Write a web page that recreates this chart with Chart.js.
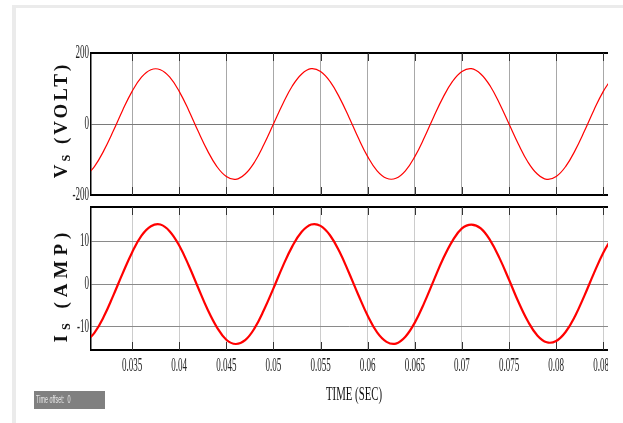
<!DOCTYPE html>
<html>
<head>
<meta charset="utf-8">
<script src="https://cdn.jsdelivr.net/npm/chart.js@4.4.1/dist/chart.umd.min.js"></script>
<style>
  body { margin:0; background:#fff; width:623px; height:423px; overflow:hidden; position:relative; font-family:'Liberation Serif', serif; }
  #frame { position:absolute; left:12px; top:5px; width:640px; height:440px; border-left:4px solid #ebebeb; border-top:3px solid #ebebeb; }
  canvas { position:absolute; left:0; }
  .ytitle { position:absolute; white-space:nowrap; font-weight:bold; font-size:19px; color:#111; transform:translate(-50%,-50%) rotate(-90deg); }
  .ytitle .sub { font-size:12px; position:relative; top:3px; }
  #xtitle { position:absolute; left:354px; top:394px; white-space:nowrap; font-size:18px; color:#111; transform:translate(-50%,-50%) scaleX(0.6); }
  #offset { position:absolute; left:34px; top:391px; width:71px; height:18px; background:#808080; }
  #offset span { position:absolute; left:2px; top:3px; white-space:nowrap; font-family:'Liberation Sans', sans-serif; font-size:10px; color:#e6e6e6; transform:scaleX(0.55); transform-origin:left center; }
</style>
</head>
<body>
<div id="frame"></div>
<canvas id="vsChart" width="608" height="170" style="top:40px"></canvas>
<canvas id="isChart" width="608" height="225" style="top:198px"></canvas>
<div class="ytitle" style="left:61px; top:120px; letter-spacing:3px;">V<span class="sub">S</span> (VOLT)</div>
<div class="ytitle" style="left:61px; top:285px; letter-spacing:5px;">I<span class="sub">S</span> (AMP)</div>
<div id="xtitle">TIME (SEC)</div>
<div id="offset"><span>Time offset:&nbsp; 0</span></div>
<script>
// data, every 1 ms
var time = [0.030, 0.031, 0.032, 0.033, 0.034, 0.035, 0.036, 0.037, 0.038, 0.039,
  0.040, 0.041, 0.042, 0.043, 0.044, 0.045, 0.046, 0.047, 0.048, 0.049,
  0.050, 0.051, 0.052, 0.053, 0.054, 0.055, 0.056, 0.057, 0.058, 0.059,
  0.060, 0.061, 0.062, 0.063, 0.064, 0.065, 0.066, 0.067, 0.068, 0.069,
  0.070, 0.071, 0.072, 0.073, 0.074, 0.075, 0.076, 0.077, 0.078, 0.079,
  0.080, 0.081, 0.082, 0.083, 0.084, 0.085, 0.086];
var vsVolt = [-148, -120, -75, -20, 39, 92, 132, 153, 153, 132,
  92, 39, -20, -75, -120, -148, -156, -141, -107, -57,
  0, 57, 107, 141, 156, 148, 120, 75, 20, -39,
  -92, -132, -153, -153, -132, -92, -39, 20, 75, 120,
  148, 156, 141, 107, 57, 0, -57, -107, -141, -156,
  -148, -120, -75, -20, 39, 92, 132];
var isAmp = [-13.6, -11.4, -7.6, -2.7, 2.5, 7.4, 11.3, 13.5, 13.9, 12.3,
  9.0, 4.4, -0.8, -5.9, -10.1, -13.0, -14.0, -13.1, -10.3, -6.0,
  -1.0, 4.2, 8.8, 12.2, 13.9, 13.6, 11.4, 7.6, 2.7, -2.5,
  -7.4, -11.3, -13.5, -13.9, -12.3, -9.0, -4.4, 0.8, 5.9, 10.1,
  13.0, 13.9, 13.0, 10.2, 6.0, 1.0, -4.2, -8.7, -12.0, -13.6,
  -13.3, -11.2, -7.5, -2.7, 2.5, 7.3, 11.1];

var xTicks = [0.035, 0.04, 0.045, 0.05, 0.055, 0.06, 0.065, 0.07, 0.075, 0.08, 0.085];
var xTickLabels = ['0.035', '0.04', '0.045', '0.05', '0.055', '0.06', '0.065', '0.07', '0.075', '0.08', '0.085'];
var vsTicks = [-200, 0, 200];
var isTicks = [-10, 0, 10];
var xMin = 0.03064, xMax = 0.0855;

// narrow serif labels, like the simulator's plot
function squashText(ctx, txt, x, y, align) {
  ctx.save();
  ctx.translate(x, y);
  ctx.scale(0.5, 1);
  ctx.textAlign = align;
  ctx.fillText(txt, 0, 0);
  ctx.restore();
}

var plotDecor = {
  id: 'plotDecor',
  beforeDatasetsDraw: function (chart) {
    // short dark tick marks inside the frame
    var ctx = chart.ctx, area = chart.chartArea, sx = chart.scales.x;
    ctx.save();
    ctx.strokeStyle = '#333';
    ctx.lineWidth = 1;
    sx.ticks.forEach(function (t) {
      var px = Math.round(sx.getPixelForValue(t.value)) + 0.5;
      ctx.beginPath();
      ctx.moveTo(px, area.top); ctx.lineTo(px, area.top + 8);
      ctx.moveTo(px, area.bottom); ctx.lineTo(px, area.bottom - 8);
      ctx.stroke();
    });
    ctx.restore();
  },
  afterDraw: function (chart, args, opts) {
    var ctx = chart.ctx, sy = chart.scales.y, sx = chart.scales.x;
    ctx.save();
    ctx.fillStyle = '#222';
    ctx.font = '18px "Liberation Serif"';
    ctx.textBaseline = 'middle';
    sy.ticks.forEach(function (t) {
      squashText(ctx, String(t.value), chart.chartArea.left - 2, sy.getPixelForValue(t.value), 'right');
    });
    if (opts.xLabels) {
      sx.ticks.forEach(function (t, i) {
        squashText(ctx, xTickLabels[i], sx.getPixelForValue(t.value), chart.chartArea.bottom + 16, 'center');
      });
    }
    ctx.restore();
  }
};

function makePanel(id, values, yMin, yMax, yTicks, lineW, padTop, xHeight, xLabels, xGridColor, yGridColor) {
  return new Chart(document.getElementById(id), {
    type: 'line',
    data: {
      datasets: [{
        data: time.map(function (t, i) { return { x: t, y: values[i] }; }),
        borderColor: '#ff0000',
        borderWidth: lineW,
        pointRadius: 0,
        tension: 0.4,
        fill: false
      }]
    },
    options: {
      responsive: false,
      animation: false,
      events: [],
      layout: { padding: { top: padTop, left: 0, right: 0, bottom: 0 } },
      plugins: { legend: { display: false }, tooltip: { enabled: false }, plotDecor: { xLabels: xLabels } },
      scales: {
        x: {
          type: 'linear', min: xMin, max: xMax,
          afterBuildTicks: function (s) { s.ticks = xTicks.map(function (v) { return { value: v }; }); },
          afterFit: function (s) { s.height = xHeight; s.paddingLeft = 0; s.paddingRight = 0; },
          ticks: { display: false },
          grid: { color: xGridColor, lineWidth: 1, drawTicks: false },
          border: { display: true, color: '#000', width: 2 }
        },
        x2: {
          type: 'linear', position: 'top', min: xMin, max: xMax,
          afterFit: function (s) { s.height = 0; },
          ticks: { display: false },
          grid: { drawOnChartArea: false, drawTicks: false },
          border: { display: true, color: '#000', width: 2 }
        },
        y: {
          min: yMin, max: yMax,
          afterBuildTicks: function (s) { s.ticks = yTicks.map(function (v) { return { value: v }; }); },
          afterFit: function (s) { s.width = 91; },
          ticks: { display: false },
          grid: { color: yGridColor, lineWidth: 1, drawTicks: false },
          border: { display: true, color: '#000', width: 1.5 }
        }
      }
    },
    plugins: [plotDecor]
  });
}

makePanel('vsChart', vsVolt, -200, 200, vsTicks, 1.2, 13, 15, false, '#a8a8a8', '#7a7a7a');
makePanel('isChart', isAmp, -15.4, 18.0, isTicks, 2.2, 9, 73, true, '#cccccc', '#8a8a8a');
</script>
</body>
</html>
